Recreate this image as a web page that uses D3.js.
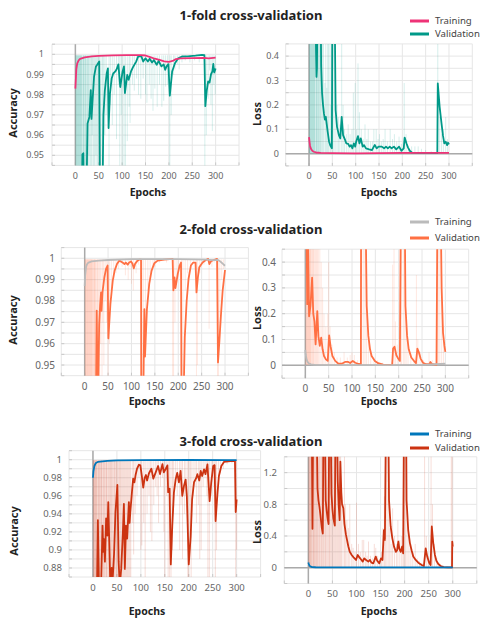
<!DOCTYPE html>
<html>
<head>
<meta charset="utf-8">
<script src="https://cdn.jsdelivr.net/npm/d3@7"></script>
<style>
body { margin: 0; background: #fff; }
text { font-family: "Noto Sans", sans-serif; }
</style>
</head>
<body>
<svg width="484" height="618"></svg>
<script>
// ---- data: [epoch, value] ----
var titles = ["1-fold cross-validation", "2-fold cross-validation", "3-fold cross-validation"];
var seriesNames = ["Training", "Validation"];
var xTicks = [0, 50, 100, 150, 200, 250, 300];
var xGrid = [-50, 0, 50, 100, 150, 200, 250, 300, 350];

var yTicksAcc = [0.95, 0.96, 0.97, 0.98, 0.99, 1];
var yGridAcc = [0.945, 0.95, 0.955, 0.96, 0.965, 0.97, 0.975, 0.98, 0.985, 0.99, 0.995, 1, 1.005];
var yTicksLoss = [0, 0.1, 0.2, 0.3, 0.4];
var yGridLoss = [-0.05, 0, 0.05, 0.1, 0.15, 0.2, 0.25, 0.3, 0.35, 0.4, 0.45];
var yTicksAcc3 = [0.88, 0.9, 0.92, 0.94, 0.96, 0.98, 1];
var yGridAcc3 = [0.87, 0.88, 0.89, 0.9, 0.91, 0.92, 0.93, 0.94, 0.95, 0.96, 0.97, 0.98, 0.99, 1, 1.01];
var yTicksLoss3 = [0, 0.4, 0.8, 1.2];
var yGridLoss3 = [-0.2, 0, 0.2, 0.4, 0.6, 0.8, 1, 1.2, 1.4];

// fold 1
var train1Acc = [[0,0.983],[2,0.9925],[4,0.9955],[7,0.997],[10,0.9977],[20,0.9985],[35,0.999],[50,0.9992],[80,0.9995],[110,0.9996],[140,0.9996],[150,0.9994],[160,0.9986],[170,0.9978],[180,0.9972],[190,0.9965],[200,0.9963],[208,0.9967],[215,0.9976],[225,0.998],[250,0.9981],[275,0.9982],[285,0.998],[300,0.9984]];
var val1Acc = [[0,0.90],[14,0.93],[15,0.9505],[17,0.951],[18,0.93],[24,0.935],[26,0.9658],[30,0.969],[33,0.9823],[34.5,0.968],[37,0.978],[40,0.989],[44,0.994],[47,0.995],[51,0.9964],[53,0.92],[58,0.93],[60,0.97],[63,0.982],[67,0.9906],[69.6,0.993],[71,0.9635],[74,0.9807],[77.6,0.988],[81,0.9905],[85,0.9914],[88,0.9925],[92,0.995],[96,0.9838],[101,0.9915],[104,0.994],[106,0.9808],[111,0.9898],[114,0.9874],[119,0.9915],[123,0.9935],[130,0.9964],[134,0.9988],[141,0.9991],[145,0.9964],[150,0.998],[155,0.9964],[159,0.9978],[164,0.9959],[168,0.9972],[174,0.9948],[178,0.9968],[184,0.994],[189,0.995],[192,0.9923],[195,0.994],[199,0.9951],[202,0.9795],[207,0.9915],[213,0.9956],[220,0.998],[228,0.9989],[240,0.999],[257,0.9993],[271,0.9997],[276,0.9996],[278,0.9743],[281,0.982],[284,0.9866],[287,0.986],[290,0.99],[293,0.9915],[295,0.9952],[297,0.991],[300,0.993]];
var raw1Acc = [[1,0.9],[2,0.9],[3,0.9],[4,0.93],[5,0.9],[6,0.9],[7,0.9],[8,0.9],[9,0.94],[10,0.9],[11,0.9],[12,0.9],[13,0.9],[14,0.9],[16,0.9],[17,0.9],[18,0.9],[19,0.9],[21,0.9],[22,0.9],[23,0.9],[25,0.9],[26,0.9],[28,0.9],[29,0.95],[31,0.9],[33,0.9],[35,0.9],[36,0.96],[38,0.9],[40,0.9],[42,0.9],[44,0.95],[46,0.9],[48,0.9],[50,0.9],[52,0.9],[55,0.9],[58,0.9],[60,0.9],[63,0.96],[66,0.97],[72,0.9],[75,0.975],[79,0.965],[83,0.98],[88,0.958],[92,0.985],[95,0.9],[98,0.97],[100,0.9],[104,0.9],[107,0.9],[111,0.957],[115,0.974],[117,0.966],[122,0.985],[126,0.982],[131,0.988],[135,0.98],[140,0.978],[145,0.988],[150,0.98],[153,0.976],[158,0.985],[162,0.978],[166,0.972],[170,0.983],[175,0.974],[180,0.985],[185,0.974],[189,0.977],[193,0.984],[197,0.985],[202,0.9],[205,0.97],[210,0.99],[213,0.9925],[218,0.995],[222,0.9925],[228,0.996],[235,0.997],[245,0.996],[255,0.997],[265,0.996],[277,0.9],[280,0.96],[284,0.978],[287,0.992],[290,0.975],[293,0.962],[296,0.985],[299,0.98]];

var train1Loss = [[0,0.068],[1,0.05],[2,0.035],[3,0.026],[5,0.017],[7,0.012],[10,0.008],[15,0.005],[25,0.003],[50,0.002],[100,0.0015],[150,0.002],[200,0.003],[250,0.003],[300,0.003]];
var val1Loss = [[0,0.6],[14,0.6],[15,0.42],[16,0.315],[17,0.35],[18,0.6],[25,0.6],[26,0.36],[28,0.247],[30,0.2],[32,0.165],[34,0.14],[36,0.151],[38,0.12],[40,0.09],[43,0.049],[46,0.032],[49,0.022],[50,0.6],[55,0.6],[57,0.179],[60,0.11],[64,0.076],[67,0.063],[70,0.151],[73,0.076],[77,0.058],[80,0.042],[84,0.04],[87,0.029],[90,0.035],[93,0.022],[96,0.042],[99,0.029],[101,0.049],[105,0.072],[108,0.042],[111,0.063],[115,0.029],[118,0.035],[122,0.022],[129,0.018],[135,0.015],[141,0.036],[145,0.022],[149,0.029],[156,0.029],[161,0.022],[165,0.029],[169,0.022],[173,0.029],[177,0.022],[182,0.029],[187,0.018],[193,0.029],[198,0.012],[203,0.022],[205,0.066],[209,0.042],[212,0.026],[216,0.012],[221,0.004],[240,0.003],[260,0.003],[275,0.002],[276,0.288],[280,0.192],[284,0.124],[287,0.076],[290,0.042],[293,0.049],[296,0.035],[298,0.045],[300,0.038]];
var raw1Loss = [[1,0.6],[2,0.6],[3,0.6],[4,0.6],[5,0.6],[6,0.6],[7,0.6],[8,0.6],[9,0.6],[10,0.6],[11,0.6],[12,0.6],[13,0.6],[15,0.6],[16,0.6],[17,0.6],[18,0.6],[20,0.6],[21,0.6],[22,0.6],[24,0.6],[25,0.6],[27,0.6],[29,0.6],[31,0.6],[34,0.29],[36,0.6],[38,0.27],[40,0.6],[42,0.6],[45,0.6],[47,0.2],[50,0.6],[53,0.6],[56,0.35],[60,0.2],[63,0.15],[66,0.12],[70,0.6],[73,0.2],[76,0.1],[80,0.08],[84,0.12],[88,0.08],[92,0.1],[95,0.25],[99,0.29],[102,0.1],[105,0.37],[108,0.17],[112,0.1],[116,0.06],[120,0.12],[124,0.06],[127,0.1],[132,0.05],[136,0.05],[139,0.1],[144,0.1],[148,0.06],[151,0.08],[155,0.05],[159,0.06],[163,0.1],[168,0.05],[174,0.1],[179,0.06],[183,0.08],[188,0.05],[193,0.07],[198,0.04],[204,0.29],[208,0.08],[213,0.03],[220,0.03],[227,0.03],[234,0.03],[241,0.02],[250,0.015],[262,0.01],[276,0.6],[280,0.15],[284,0.08],[288,0.1],[293,0.15],[297,0.06]];

// fold 2
var train2Acc = [[0,0.987],[1,0.992],[3,0.996],[5,0.9972],[8,0.998],[15,0.9985],[30,0.9989],[50,0.9992],[100,0.9996],[200,0.9996],[260,0.9994],[275,0.9991],[285,0.9992],[290,0.9985],[295,0.9975],[300,0.9965]];
var val2Acc = [[0,0.9],[18,0.93],[24,0.93],[25.7,0.9755],[28,0.93],[29,0.94],[31,0.969],[33,0.978],[35,0.984],[36,0.9754],[38,0.984],[42,0.991],[45.6,0.995],[49,0.9966],[50.6,0.9625],[55,0.9786],[60,0.9895],[64,0.9942],[69,0.9973],[74,0.9989],[81,0.998],[85,0.9973],[88,0.998],[92,0.997],[95,0.998],[99,0.9985],[102,0.9975],[105,0.9953],[108,0.9975],[113,0.9989],[117,0.9994],[120.5,0.9994],[121,0.93],[125,0.93],[127.6,0.9762],[129,0.954],[133,0.976],[138,0.988],[143,0.9942],[149,0.9977],[156,0.9989],[170,0.9994],[188,0.9997],[189.6,0.985],[192,0.991],[194,0.986],[199,0.9927],[203,0.9966],[206,0.998],[207,0.93],[211,0.93],[214,0.963],[218,0.98],[222,0.9903],[227,0.9966],[232,0.998],[237,0.998],[239,0.984],[242,0.991],[245,0.9958],[252,0.998],[259,0.9992],[264,0.9997],[266.5,0.9973],[270,0.9986],[276,0.9992],[283,0.9997],[285,0.9512],[287,0.958],[291.5,0.974],[295,0.985],[300,0.9945]];
var raw2Acc = [[1,0.9],[2,0.9],[3,0.9],[4,0.9],[5,0.9],[6,0.9],[7,0.9],[8,0.9],[9,0.9],[10,0.9],[11,0.9],[12,0.9],[13,0.9],[14,0.9],[15,0.9],[16,0.9],[17,0.9],[19,0.9],[20,0.9],[21,0.9],[22,0.9],[23,0.9],[25,0.9],[27,0.9],[28,0.9],[30,0.9],[32,0.9],[34,0.96],[37,0.9],[39,0.97],[41,0.95],[44,0.98],[47,0.97],[50,0.9],[53,0.96],[57,0.985],[62,0.99],[67,0.993],[72,0.995],[80,0.996],[87,0.992],[93,0.99],[97,0.996],[100,0.988],[104,0.985],[110,0.993],[115,0.997],[121,0.9],[123,0.9],[126,0.9],[130,0.97],[135,0.985],[140,0.99],[146,0.996],[150,0.996],[160,0.998],[175,0.998],[188,0.9],[190,0.9],[193,0.97],[197,0.99],[201,0.995],[207,0.9],[210,0.9],[215,0.985],[220,0.993],[226,0.997],[233,0.998],[239,0.9],[241,0.95],[246,0.993],[255,0.997],[266,0.967],[272,0.996],[277,0.998],[284,0.9],[286,0.9],[289,0.96],[293,0.99],[297,0.995]];

var train2Loss = [[0,0.06],[1,0.04],[2,0.028],[4,0.016],[7,0.008],[12,0.004],[20,0.002],[50,0.001],[150,0.001],[250,0.002],[280,0.004],[300,0.006]];
var val2Loss = [[0,0.6],[2.5,0.6],[4,0.237],[5.5,0.5],[8,0.19],[11,0.23],[14.5,0.34],[17,0.2],[19.5,0.17],[22,0.081],[25.6,0.21],[28,0.113],[31,0.075],[34,0.107],[37,0.062],[40,0.036],[44,0.023],[48,0.017],[51,0.116],[54,0.074],[58,0.036],[64,0.017],[71,0.006],[78,0.006],[85,0.013],[92,0.013],[96,0.009],[101.6,0.017],[107,0.01],[114,0.005],[119,0.004],[119.5,0.6],[129,0.6],[131.5,0.23],[135,0.114],[138.6,0.062],[142,0.036],[149,0.017],[156,0.008],[167,0.003],[178,0.002],[186,0.002],[188,0.065],[191,0.072],[195,0.039],[199,0.026],[202.5,0.017],[204.7,0.6],[213,0.6],[214.5,0.23],[218,0.114],[221.5,0.062],[227,0.03],[234.5,0.013],[237,0.008],[240,0.065],[243.5,0.049],[247,0.026],[252,0.01],[259,0.004],[266,0.005],[268,0.013],[271,0.005],[281,0.002],[283,0.6],[290,0.6],[292,0.3],[295,0.126],[298,0.075],[300,0.052]];
var raw2Loss = [[1,0.6],[2,0.6],[3,0.6],[4,0.6],[5,0.6],[6,0.6],[7,0.6],[8,0.6],[9,0.6],[10,0.6],[11,0.6],[12,0.6],[14,0.6],[15,0.6],[17,0.6],[18,0.6],[20,0.6],[22,0.6],[24,0.6],[26,0.6],[28,0.6],[31,0.6],[34,0.4],[37,0.3],[40,0.2],[44,0.15],[48,0.2],[50,0.4],[53,0.15],[57,0.08],[62,0.05],[68,0.03],[75,0.03],[83,0.05],[90,0.03],[96,0.04],[100,0.05],[105,0.04],[112,0.02],[119,0.6],[121,0.6],[125,0.6],[128,0.6],[131,0.35],[135,0.1],[140,0.05],[147,0.03],[155,0.02],[165,0.01],[187,0.39],[190,0.6],[193,0.17],[197,0.08],[204,0.6],[206,0.6],[210,0.6],[213,0.6],[216,0.2],[220,0.1],[226,0.05],[233,0.03],[238,0.35],[241,0.1],[246,0.05],[253,0.02],[265,0.05],[272,0.02],[283,0.6],[285,0.6],[288,0.6],[292,0.35],[296,0.15]];

// fold 3
var train3Acc = [[0,0.98],[1,0.987],[3,0.993],[5,0.9955],[7,0.9967],[10,0.9975],[15,0.998],[30,0.9987],[50,0.9992],[100,0.9996],[200,0.9997],[280,0.9996],[300,0.9995]];
var val3Acc = [[0,0.8],[8,0.84],[10.3,0.933],[12.5,0.86],[17,0.86],[20,0.927],[21.5,0.898],[23,0.912],[25,0.887],[27.5,0.935],[30,0.916],[32,0.953],[34,0.91],[36,0.866],[39,0.88],[41,0.866],[44,0.895],[47,0.942],[51,0.972],[53.6,0.887],[56,0.86],[59,0.879],[62.5,0.92],[64.6,0.951],[66.6,0.879],[69,0.927],[71.4,0.9125],[75,0.953],[76.5,0.93],[78,0.942],[81.7,0.966],[84,0.979],[86.5,0.975],[89,0.983],[92,0.99],[96,0.9945],[99,0.9937],[102,0.982],[105,0.969],[108,0.98],[110.6,0.983],[113,0.977],[117,0.985],[122,0.99],[126,0.979],[131,0.986],[136,0.993],[140,0.984],[145,0.995],[148,0.986],[152,0.99],[155.5,0.9937],[157,0.964],[160,0.968],[162.5,0.884],[165.6,0.9265],[169,0.9635],[172.6,0.978],[176,0.9855],[179.5,0.975],[183,0.9875],[186.5,0.96],[190,0.971],[193.5,0.978],[196,0.96],[198,0.923],[200,0.884],[204,0.915],[207,0.956],[211,0.975],[215,0.979],[218,0.984],[222,0.977],[225,0.9875],[228,0.982],[232,0.9893],[235,0.984],[239,0.9948],[243.6,0.954],[247,0.975],[251,0.993],[254,0.994],[256,0.932],[260,0.963],[263,0.982],[268,0.993],[273.5,0.9975],[287,0.9985],[296.5,0.9985],[298,0.942],[300,0.956]];
var raw3Acc = [[1,0.85],[2,0.85],[3,0.85],[4,0.85],[5,0.85],[6,0.85],[7,0.85],[8,0.85],[9,0.85],[11,0.85],[12,0.85],[13,0.85],[14,0.85],[16,0.85],[17,0.85],[18,0.85],[19,0.85],[21,0.85],[22,0.85],[24,0.85],[25,0.85],[27,0.85],[28,0.85],[29,0.85],[31,0.85],[33,0.85],[34,0.85],[36,0.85],[37,0.85],[39,0.85],[40,0.85],[42,0.85],[44,0.85],[45,0.85],[47,0.85],[49,0.85],[50,0.85],[52,0.85],[54,0.85],[56,0.85],[57,0.85],[59,0.85],[61,0.85],[63,0.85],[65,0.85],[67,0.85],[69,0.85],[71,0.85],[73,0.85],[75,0.85],[77,0.85],[79,0.85],[83,0.93],[85,0.895],[88,0.94],[92,0.96],[96,0.98],[100,0.9],[102,0.905],[106,0.93],[109,0.85],[113,0.94],[117,0.96],[120,0.92],[123,0.91],[127,0.95],[131,0.97],[134,0.96],[137,0.93],[141,0.97],[145,0.98],[148,0.92],[150,0.85],[154,0.96],[157,0.85],[160,0.85],[163,0.85],[166,0.9],[168,0.94],[172,0.97],[176,0.96],[181,0.9],[184,0.95],[187,0.89],[191,0.94],[194,0.96],[198,0.85],[200,0.85],[203,0.9],[205,0.85],[209,0.96],[213,0.97],[216,0.93],[220,0.95],[223,0.89],[226,0.9],[230,0.97],[234,0.98],[238,0.96],[240,0.85],[243,0.85],[247,0.96],[250,0.98],[253,0.97],[255.5,0.85],[258,0.9],[262,0.97],[266,0.985],[272,0.99],[280,0.995],[290,0.996],[298,0.85],[300,0.9]];

var train3Loss = [[0,0.065],[1,0.045],[2,0.03],[3,0.022],[5,0.013],[8,0.008],[15,0.005],[30,0.004],[100,0.003],[300,0.003]];
var val3Loss = [[0,2],[7,2],[8.5,0.49],[10,2],[17,2],[19,1.0],[21,0.85],[23,0.77],[25,0.67],[28,0.5],[30,0.43],[31.5,2],[34,2],[36,0.85],[38,0.72],[40,0.62],[42,0.55],[43.5,2],[46,2],[48,0.93],[50,0.74],[52,0.62],[55,0.53],[56.5,2],[59,2],[61,1.1],[63,0.79],[65,0.6],[66.5,1.34],[68.5,0.95],[70,0.8],[72.7,0.75],[75,0.55],[78,0.42],[80,0.36],[83,0.27],[86,0.2],[90,0.16],[94,0.13],[99,0.097],[102.5,0.16],[106,0.13],[110,0.1],[113,0.076],[116,0.118],[120,0.097],[124.6,0.076],[128,0.097],[131,0.063],[135,0.055],[140,0.14],[143,0.088],[147.5,0.055],[151,0.118],[154,0.097],[157,0.475],[159,0.35],[161.4,2],[166,2],[167.6,0.85],[171,0.52],[174.5,0.37],[178,0.265],[182,0.2],[184.5,0.22],[187,0.33],[189,0.24],[192,0.2],[194.7,0.265],[197,0.18],[198.8,2],[203,2],[204,0.85],[207.5,0.475],[211,0.31],[214.5,0.22],[218,0.14],[223,0.097],[228.5,0.063],[235.5,0.034],[240,0.021],[243.8,0.244],[247,0.14],[251,0.063],[254,0.034],[256.5,0.52],[259.5,0.31],[263,0.16],[266,0.088],[270,0.046],[275,0.021],[281,0.008],[290,0.004],[298.5,0.004],[299,0.33],[300,0.265]];
var raw3Loss = [[1,2],[2,2],[3,2],[4,2],[5,2],[6,2],[7,2],[9,2],[10,2],[11,2],[12,2],[13,2],[15,2],[16,2],[17,2],[19,2],[20,2],[22,2],[23,2],[25,2],[27,2],[28,2],[30,2],[31,2],[33,2],[35,2],[36,2],[38,2],[40,2],[42,2],[44,2],[45,2],[47,2],[49,2],[51,2],[53,2],[55,2],[57,2],[59,2],[61,2],[63,2],[65,2],[67,2],[69,0.8],[72,0.8],[75,2],[77,0.8],[80,0.6],[83,0.5],[86,0.8],[90,0.3],[93,0.25],[97,0.2],[100,0.82],[104,0.3],[108,0.2],[112,0.35],[115,0.35],[119,0.2],[122,0.15],[125,0.33],[129,0.15],[133,0.12],[137,0.3],[140,0.25],[144,0.15],[148,0.1],[152,0.2],[155,0.5],[158,0.9],[160,2],[163,2],[166,2],[169,0.5],[172,0.3],[175,0.75],[179,0.4],[183,0.3],[186,0.6],[190,0.35],[194,0.4],[197,0.5],[199,2],[202,2],[205,0.7],[209,0.4],[213,0.3],[217,0.2],[222,0.3],[226,0.12],[231,0.08],[236,0.06],[241.5,2],[245,0.4],[249,0.15],[255,2],[258,0.8],[262,0.3],[267,0.12],[272,0.05],[280,0.03],[288,0.02],[297,2],[299,2]];

// ---- layout ----
var foldColors = [["#ee3377", "#009988"], ["#bbbbbb", "#ff7043"], ["#0077bb", "#cc3311"]];

var panels = [
  {fold:0, train:train1Acc, val:val1Acc, raw:raw1Acc, base:0.9995, xr:[52,239], yd:[0.945,1.005], yr:[165.4,44.2], grid:yGridAcc, ticks:yTicksAcc, tickRight:44, xTickY:179, fs:9, ylab:"Accuracy", ylabPos:[13,113], xlabPos:[148,196], zero:false},
  {fold:0, train:train1Loss, val:val1Loss, raw:raw1Loss, base:0.002, xr:[285.7,472.3], yd:[-0.05,0.45], yr:[165.9,43.9], grid:yGridLoss, ticks:yTicksLoss, tickRight:279, xTickY:179, fs:9, ylab:"Loss", ylabPos:[257,114], xlabPos:[379,196], zero:true},
  {fold:1, train:train2Acc, val:val2Acc, raw:raw2Acc, base:0.9995, xr:[61.3,248.4], yd:[0.945,1.005], yr:[375.7,247.6], grid:yGridAcc, ticks:yTicksAcc, tickRight:55, xTickY:390, fs:10, ylab:"Accuracy", ylabPos:[13.5,320], xlabPos:[147,405], zero:false},
  {fold:1, train:train2Loss, val:val2Loss, raw:raw2Loss, base:0.002, xr:[282,468.7], yd:[-0.05,0.45], yr:[378.2,249.2], grid:yGridLoss, ticks:yTicksLoss, tickRight:276, xTickY:392, fs:10, ylab:"Loss", ylabPos:[257,318], xlabPos:[379,405], zero:true},
  {fold:2, train:train3Acc, val:val3Acc, raw:raw3Acc, base:0.9995, xr:[69,260.6], yd:[0.87,1.01], yr:[577,450.7], grid:yGridAcc3, ticks:yTicksAcc3, tickRight:62, xTickY:591, fs:9.5, ylab:"Accuracy", ylabPos:[14,531], xlabPos:[147,615], zero:false},
  {fold:2, train:train3Loss, val:val3Loss, raw:raw3Loss, base:0.005, xr:[284.3,476.8], yd:[-0.2,1.4], yr:[583.5,456.8], grid:yGridLoss3, ticks:yTicksLoss3, tickRight:277, xTickY:597, fs:9.5, ylab:"Loss", ylabPos:[257,532], xlabPos:[379,615], zero:true}
];

var titlePos = [[251,20],[251,234],[251,446]];
var legendY = [[21,34],[222,238],[434,448]];

var svg = d3.select("svg");
var fmt = function(v) { return String(+v.toFixed(3)); };

panels.forEach(function(p, i) {
  var x = d3.scaleLinear().domain([-50, 350]).range(p.xr);
  var y = d3.scaleLinear().domain(p.yd).range(p.yr);
  var c = foldColors[p.fold];
  var g = svg.append("g");

  var clipId = "clip" + i;
  svg.append("clipPath").attr("id", clipId).append("rect")
    .attr("x", p.xr[0]).attr("y", p.yr[1])
    .attr("width", p.xr[1] - p.xr[0]).attr("height", p.yr[0] - p.yr[1]);

  // grid
  g.selectAll(".hg").data(p.grid).enter().append("line")
    .attr("x1", p.xr[0]).attr("x2", p.xr[1])
    .attr("y1", function(d) { return y(d); }).attr("y2", function(d) { return y(d); })
    .attr("stroke", "#e6e6e6").attr("stroke-width", 1);
  g.selectAll(".vg").data(xGrid).enter().append("line")
    .attr("y1", p.yr[0]).attr("y2", p.yr[1])
    .attr("x1", function(d) { return x(d); }).attr("x2", function(d) { return x(d); })
    .attr("stroke", "#e6e6e6").attr("stroke-width", 1);
  // small ticks at left and bottom
  g.selectAll(".ht").data(p.grid).enter().append("line")
    .attr("x1", p.xr[0]).attr("x2", p.xr[0] + 3)
    .attr("y1", function(d) { return y(d); }).attr("y2", function(d) { return y(d); })
    .attr("stroke", "#c8c8c8");
  g.selectAll(".vt").data(xGrid).enter().append("line")
    .attr("y1", p.yr[0]).attr("y2", p.yr[0] - 3)
    .attr("x1", function(d) { return x(d); }).attr("x2", function(d) { return x(d); })
    .attr("stroke", "#c8c8c8");

  // axes at zero
  g.append("line").attr("x1", x(0)).attr("x2", x(0))
    .attr("y1", p.yr[0]).attr("y2", p.yr[1])
    .attr("stroke", "#aaa").attr("stroke-width", 1.5);
  if (p.zero) {
    g.append("line").attr("x1", p.xr[0]).attr("x2", p.xr[1])
      .attr("y1", y(0)).attr("y2", y(0))
      .attr("stroke", "#aaa").attr("stroke-width", 1.5);
  }

  // tick labels
  g.selectAll(".yl").data(p.ticks).enter().append("text")
    .attr("x", p.tickRight).attr("y", function(d) { return y(d); })
    .attr("dy", "0.35em").attr("text-anchor", "end")
    .attr("font-size", p.fs).attr("fill", "#666")
    .text(fmt);
  g.selectAll(".xl").data(xTicks).enter().append("text")
    .attr("x", function(d) { return x(d); }).attr("y", p.xTickY)
    .attr("text-anchor", "middle")
    .attr("font-size", p.fs).attr("fill", "#666")
    .text(fmt);

  // axis titles
  g.append("text")
    .attr("transform", "translate(" + p.ylabPos[0] + "," + p.ylabPos[1] + ") rotate(-90)")
    .attr("dy", "0.35em").attr("text-anchor", "middle")
    .attr("font-size", 11).attr("font-weight", "bold").attr("fill", "#222")
    .text(p.ylab);
  g.append("text")
    .attr("x", p.xlabPos[0]).attr("y", p.xlabPos[1])
    .attr("text-anchor", "middle")
    .attr("font-size", 10.5).attr("font-weight", "bold").attr("fill", "#222")
    .text("Epochs");

  var plot = g.append("g").attr("clip-path", "url(#" + clipId + ")");

  // raw (unsmoothed) validation, faint
  plot.selectAll(".raw").data(p.raw).enter().append("line")
    .attr("x1", function(d) { return x(d[0]); }).attr("x2", function(d) { return x(d[0]); })
    .attr("y1", y(p.base)).attr("y2", function(d) { return y(d[1]); })
    .attr("stroke", c[1]).attr("stroke-opacity", 0.16).attr("stroke-width", 1);

  var line = d3.line().x(function(d) { return x(d[0]); }).y(function(d) { return y(d[1]); });
  plot.append("path").datum(p.val).attr("d", line)
    .attr("fill", "none").attr("stroke", c[1]).attr("stroke-width", 1.8).attr("stroke-linejoin", "round");
  plot.append("path").datum(p.train).attr("d", line)
    .attr("fill", "none").attr("stroke", c[0]).attr("stroke-width", 1.8).attr("stroke-linejoin", "round");
});

// titles and legends
titles.forEach(function(t, k) {
  svg.append("text").attr("x", titlePos[k][0]).attr("y", titlePos[k][1])
    .attr("text-anchor", "middle").attr("font-size", 13).attr("font-weight", "bold").attr("fill", "#222")
    .text(t);
  seriesNames.forEach(function(n, j) {
    var yy = legendY[k][j];
    svg.append("line").attr("x1", 410).attr("x2", 429).attr("y1", yy).attr("y2", yy)
      .attr("stroke", foldColors[k][j]).attr("stroke-width", 3);
    svg.append("text").attr("x", 435).attr("y", yy).attr("dy", "0.35em")
      .attr("font-size", 9.6).attr("fill", "#444").text(n);
  });
});
</script>
</body>
</html>
